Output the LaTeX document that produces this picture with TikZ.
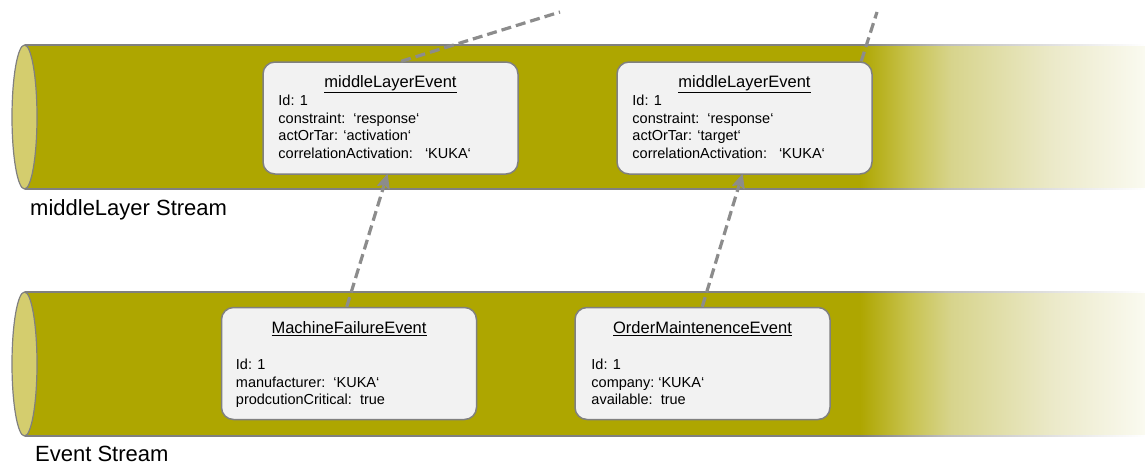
\documentclass[tikz,border=0pt]{standalone}
\usepackage{fontspec}
\setmainfont{Liberation Sans}
\usetikzlibrary{arrows.meta,calc}

\definecolor{tubeolive}{RGB}{174,166,0}
\definecolor{tubecap}{RGB}{212,205,110}
\definecolor{tubeedge}{RGB}{128,128,128}
\definecolor{edgemid}{RGB}{190,190,190}
\definecolor{boxfill}{RGB}{242,242,242}
\definecolor{boxedge}{RGB}{128,128,128}
\definecolor{flowgray}{RGB}{140,140,140}
\definecolor{fadeA}{RGB}{200,195,80}
\definecolor{fadeB}{RGB}{215,212,140}
\definecolor{fadeC}{RGB}{235,233,200}
\definecolor{fadeD}{RGB}{250,250,240}

% right-hand fade of the stream tubes and of their outlines
\pgfdeclarehorizontalshading{tubefade}{100bp}{color(0bp)=(tubeolive); color(25bp)=(tubeolive); color(33.8bp)=(fadeA); color(41bp)=(fadeB); color(58.5bp)=(fadeC); color(75bp)=(fadeD); color(100bp)=(fadeD)}
\pgfdeclarehorizontalshading{edgefade}{100bp}{color(0bp)=(tubeedge); color(25bp)=(tubeedge); color(40bp)=(edgemid); color(75bp)=(white); color(100bp)=(white)}

\tikzset{
  evbox/.style={draw=boxedge, line width=1.5pt, fill=boxfill, rounded corners=12pt,
    minimum width=255pt, minimum height=112pt, inner sep=0pt},
  evtitle/.style={font=\fontsize{16.5}{19}\selectfont, anchor=base, inner sep=0pt},
  evattrs/.style={font=\fontsize{14.5}{17.5}\selectfont, align=left, anchor=north west, inner sep=0pt},
  streamlabel/.style={font=\fontsize{22}{26}\selectfont, anchor=base west, inner sep=0pt},
  flow/.style={draw=flowgray, line width=3.2pt, dash pattern=on 10pt off 5pt},
  flowhead/.style={draw=flowgray, fill=flowgray, line width=1pt, line join=round},
}

% dashed connector ending in a solid arrow head
\newcommand\flowarrow[2]{%
  \draw[flow] #1 -- ($#2!11pt!#1$);
  \draw[flowhead] #2 -- ($#2!13pt!#1!6pt!90:#1$) -- ($#2!10pt!#1$) -- ($#2!13pt!#1!6pt!-90:#1$) -- cycle;
}

\begin{document}
\begin{tikzpicture}[x=1pt, y=-1pt]
\useasboundingbox (0,0) rectangle (1145,466);

% the two stream tubes
\foreach \t in {45,292} {
  \fill[tubeolive] (24.5,\t) rectangle (862,\t+144);
  \shade[shading=tubefade] (860,\t) rectangle (1145,\t+144);
  \draw[tubeedge, line width=1.5pt] (24.5,\t) -- (861,\t);
  \draw[tubeedge, line width=1.5pt] (24.5,\t+144) -- (861,\t+144);
  \shade[shading=edgefade] (860,\t-0.75) rectangle (1145,\t+0.75);
  \shade[shading=edgefade] (860,\t+143.25) rectangle (1145,\t+144.75);
  \draw[tubeedge, line width=1.2pt, fill=tubecap] (24.5,\t+72) ellipse [x radius=12.5, y radius=72];
}

\node[streamlabel] (mlLabel) at (30,215) {middleLayer Stream};
\node[streamlabel] (evLabel) at (35,461) {Event Stream};

% middle layer events
\node[evbox] (mlA) at (390.5,118) {};
\node[evtitle] (mlAt) at ($(mlA.north)+(0,26.5)$) {\underline{middleLayerEvent}};
\node[evattrs] (mlAb) at ($(mlA.north west)+(16,34)$) {Id: 1\\constraint:\ \ ‘response‘\\actOrTar: ‘activation‘\\correlationActivation:\hspace{12pt}‘KUKA‘};

\node[evbox] (mlB) at (744.5,118) {};
\node[evtitle] (mlBt) at ($(mlB.north)+(0,26.5)$) {\underline{middleLayerEvent}};
\node[evattrs] (mlBb) at ($(mlB.north west)+(16,34)$) {Id: 1\\constraint:\ \ ‘response‘\\actOrTar: ‘target‘\\correlationActivation:\hspace{12pt}‘KUKA‘};

% raw events
\node[evbox] (evC) at (349,363.5) {};
\node[evtitle] (evCt) at ($(evC.north)+(0,26.5)$) {\underline{MachineFailureEvent}};
\node[evattrs] (evCb) at ($(evC.north west)+(15,52.5)$) {Id: 1\\manufacturer:\ \ ‘KUKA‘\\prodcutionCritical:\ \ true};

\node[evbox] (evD) at (702.5,363.5) {};
\node[evtitle] (evDt) at ($(evD.north)+(0,26.5)$) {\underline{OrderMaintenenceEvent}};
\node[evattrs] (evDb) at ($(evD.north west)+(17,52.5)$) {Id: 1\\company:\ ‘KUKA‘\\available:\ \ true};

% derivation arrows
\coordinate (cOut) at ($(evC.north west)+(126,0)$);
\coordinate (aIn)  at ($(mlA.south west)+(125,0)$);
\coordinate (dOut) at ($(evD.north west)+(128,0)$);
\coordinate (bIn)  at ($(mlB.south west)+(126,0)$);
\flowarrow{(cOut)}{(aIn)}
\flowarrow{(dOut)}{(bIn)}

% links leaving towards the next layer
\coordinate (upA) at (560,12);
\coordinate (upB) at (877,12);
\draw[flow] ($(mlA.north west)+(139,0)$) -- (upA);
\draw[flow] ($(mlB.north west)+(245,0)$) -- (upB);
\end{tikzpicture}
\end{document}
